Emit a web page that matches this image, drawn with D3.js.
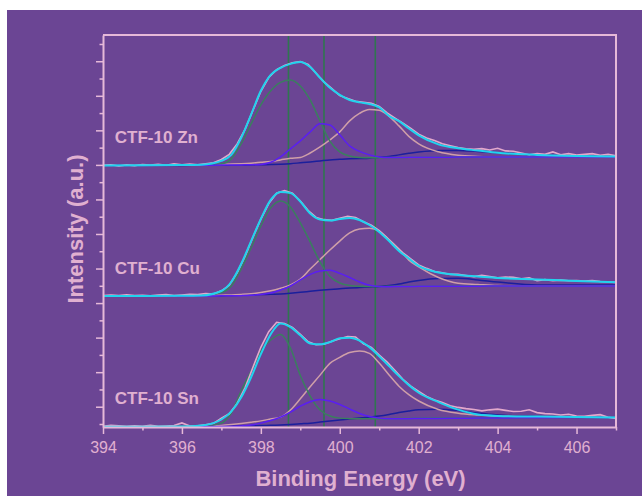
<!DOCTYPE html>
<html lang="en">
<head>
<meta charset="UTF-8">
<title>N 1s XPS - CTF-10</title>
<script src="https://cdn.jsdelivr.net/npm/d3@7"></script>
<style>
    body { margin: 0; background: #fff; }
    svg { display: block; font-family: "Liberation Sans", Arial, sans-serif; }
    .fit { fill: none; }
</style>
</head>
<body>
<svg width="642" height="496"></svg>
<script>

// binding energy grid of the fitted curves (eV)
var energy = [394, 395, 396, 396.5, 397, 397.25, 397.5, 397.75, 398, 398.25, 398.5, 398.75,
    399, 399.25, 399.5, 399.75, 400, 400.25, 400.5, 400.75, 401, 401.25, 401.5, 401.75,
    402, 402.5, 403, 403.5, 404, 405, 406, 407];

// raw spectra are sampled every 0.2 eV from 394 to 407
var rawEnergy = d3.range(0, 66).map(function(i) { return +(394 + i * 0.2).toFixed(1); });

var samples = ["CTF-10 Zn", "CTF-10 Cu", "CTF-10 Sn"];
var offsets = [14.96, 7.41, -0.16];   // vertical stacking (a.u.)
var peakLines = [398.7, 399.6, 400.9];

// ---- CTF-10 Zn
var znRaw = [0.02, 0.05, -0.02, 0.04, 0.0, 0.06, 0.03, 0.08, 0.02, 0.1, 0.04, 0.09, 0.05, 0.11, 0.16, 0.35,
    0.65, 1.25, 2.1, 3.2, 4.3, 5.1, 5.55, 5.8, 5.95, 6.02, 5.85, 5.35, 4.85, 4.45, 4.05, 3.88,
    3.72, 3.66, 3.6, 3.42, 3.05, 2.75, 2.45, 2.15, 1.82, 1.6, 1.45, 1.27, 1.15, 1.04, 0.97, 0.95,
    0.98, 0.9, 1.0, 0.85, 0.83, 0.73, 0.63, 0.69, 0.65, 0.79, 0.63, 0.69, 0.61, 0.65, 0.69, 0.6, 0.65, 0.57];
var znEnvelope = [0, 0.02, 0.03, 0.05, 0.27, 0.62, 1.6, 2.94, 4.33, 5.25, 5.66, 5.89, 6.0, 5.71, 5.08, 4.5,
    4.09, 3.8, 3.66, 3.57, 3.37, 2.87, 2.57, 2.15, 1.75, 1.23, 1.0, 0.87, 0.74, 0.62, 0.56, 0.53];
var znPeakA = [0.01, 0.01, 0.02, 0.02, 0.1, 0.39, 1.25, 2.4, 3.51, 4.33, 4.82, 4.96, 4.61, 3.8, 2.58, 1.42,
    0.79, 0.55, 0.47, 0.46, 0.46, 0.47, 0.47, 0.48, 0.48, 0.49, 0.49, 0.5, 0.5, 0.5, 0.5, 0.5];
var znPeakB = [0.01, 0.01, 0.02, 0.02, 0.03, 0.03, 0.04, 0.05, 0.07, 0.19, 0.51, 0.97, 1.43, 1.95, 2.42, 2.35,
    1.78, 1.14, 0.82, 0.62, 0.5, 0.47, 0.47, 0.48, 0.48, 0.48, 0.49, 0.49, 0.5, 0.5, 0.5, 0.5];
var znPeakC = [0.01, 0.01, 0.02, 0.04, 0.07, 0.09, 0.11, 0.14, 0.19, 0.24, 0.33, 0.42, 0.47, 0.73, 1.08, 1.49,
    1.95, 2.59, 3.02, 3.24, 3.2, 2.85, 2.3, 1.69, 1.26, 0.8, 0.6, 0.53, 0.5, 0.5, 0.5, 0.5];
var znPeakD = [0, 0.01, 0.01, 0.02, 0.02, 0.03, 0.03, 0.04, 0.05, 0.06, 0.08, 0.11, 0.16, 0.21, 0.27, 0.33,
    0.36, 0.39, 0.41, 0.43, 0.48, 0.53, 0.62, 0.71, 0.79, 0.88, 0.88, 0.82, 0.74, 0.62, 0.56, 0.52];

// ---- CTF-10 Cu
var cuRaw = [0.02, 0.06, 0.03, 0.07, 0.02, 0.04, 0.01, 0.05, 0.09, 0.03, 0.06, 0.1, 0.08, 0.14, 0.12, 0.3,
    0.62, 1.35, 2.3, 3.4, 4.45, 5.35, 5.95, 6.1, 5.95, 5.5, 4.95, 4.55, 4.42, 4.38, 4.5, 4.62,
    4.55, 4.3, 4.1, 3.78, 3.35, 2.9, 2.5, 2.15, 1.8, 1.6, 1.42, 1.35, 1.25, 1.25, 1.18, 1.12,
    1.2, 1.12, 1.05, 1.1, 1.08, 1.0, 1.05, 0.88, 0.95, 0.88, 0.92, 0.88, 0.9, 0.86, 0.9, 0.84, 0.82, 0.79];
var cuEnvelope = [0, 0, 0.01, 0.03, 0.29, 0.81, 1.85, 3.16, 4.46, 5.56, 6.02, 5.96, 5.47, 4.78, 4.43, 4.37,
    4.46, 4.52, 4.4, 4.11, 3.71, 3.18, 2.61, 2.17, 1.74, 1.36, 1.22, 1.13, 1.04, 0.96, 0.87, 0.79];
var cuPeakA = [0, 0, 0.01, 0.02, 0.2, 0.58, 1.56, 2.78, 4.05, 5.1, 5.5, 5.15, 4.23, 3.13, 1.97, 1.13,
    0.75, 0.61, 0.56, 0.55, 0.55, 0.56, 0.56, 0.57, 0.57, 0.57, 0.58, 0.58, 0.58, 0.58, 0.58, 0.58];
var cuPeakB = [0, 0, 0, 0, 0.01, 0.01, 0.02, 0.04, 0.09, 0.17, 0.35, 0.58, 0.93, 1.25, 1.45, 1.49,
    1.31, 1.07, 0.81, 0.62, 0.55, 0.54, 0.55, 0.55, 0.56, 0.56, 0.57, 0.57, 0.58, 0.58, 0.58, 0.58];
var cuPeakC = [0, 0, 0.01, 0.02, 0.05, 0.06, 0.09, 0.13, 0.2, 0.3, 0.45, 0.64, 0.98, 1.56, 2.11, 2.66,
    3.18, 3.65, 3.88, 3.92, 3.76, 3.27, 2.72, 2.08, 1.68, 1.07, 0.74, 0.67, 0.61, 0.58, 0.58, 0.58];
var cuPeakD = [0, 0, 0.01, 0.01, 0.02, 0.03, 0.04, 0.06, 0.08, 0.1, 0.12, 0.16, 0.21, 0.27, 0.33, 0.38,
    0.42, 0.46, 0.49, 0.52, 0.55, 0.61, 0.69, 0.81, 0.9, 1.01, 1.03, 0.93, 0.81, 0.64, 0.64, 0.64];

// ---- CTF-10 Sn
var snRaw = [0.03, 0.08, 0.06, 0.02, 0.05, 0.03, 0.09, 0.02, 0.04, 0.07, 0.22, 0.04, 0.06, 0.12, 0.2, 0.5,
    0.75, 1.35, 2.25, 3.45, 4.6, 5.5, 6.05, 5.98, 5.75, 5.35, 4.92, 4.75, 4.78, 4.95, 5.1, 5.22,
    5.2, 4.8, 4.6, 4.15, 3.75, 3.25, 2.75, 2.35, 2.05, 1.75, 1.55, 1.4, 1.22, 1.12, 1.05, 1.0,
    0.92, 0.98, 1.02, 0.95, 0.88, 0.9, 0.98, 0.82, 0.76, 0.74, 0.68, 0.72, 0.62, 0.6, 0.66, 0.7, 0.55, 0.48];
var snEnvelope = [0, 0, 0.01, 0.07, 0.42, 0.88, 1.69, 2.85, 4.2, 5.36, 5.98, 5.77, 5.3, 4.82, 4.77, 4.9,
    5.13, 5.16, 4.99, 4.61, 4.08, 3.51, 2.93, 2.41, 1.97, 1.43, 0.99, 0.71, 0.63, 0.59, 0.56, 0.54];
var snPeakA = [0, 0, 0.01, 0.02, 0.21, 0.79, 2.07, 3.21, 4.38, 5.02, 5.34, 4.56, 2.97, 1.78, 0.97, 0.62,
    0.5, 0.47, 0.46, 0.46, 0.47, 0.47, 0.48, 0.48, 0.49, 0.5, 0.5, 0.51, 0.52, 0.53, 0.54, 0.54];
var snPeakB = [0, 0, 0, 0.01, 0.01, 0.02, 0.05, 0.1, 0.21, 0.36, 0.56, 0.85, 1.19, 1.45, 1.58, 1.49,
    1.29, 1.03, 0.77, 0.59, 0.5, 0.47, 0.47, 0.47, 0.48, 0.48, 0.49, 0.5, 0.51, 0.52, 0.53, 0.54];
var snPeakC = [0, 0.01, 0.02, 0.04, 0.08, 0.13, 0.19, 0.26, 0.34, 0.45, 0.56, 0.97, 1.62, 2.32, 2.99, 3.67,
    4.02, 4.3, 4.39, 4.25, 3.69, 3.0, 2.35, 1.86, 1.49, 1.0, 0.78, 0.68, 0.62, 0.58, 0.56, 0.54];
var snPeakD = [0, 0.01, 0.01, 0.02, 0.02, 0.03, 0.04, 0.06, 0.07, 0.09, 0.1, 0.13, 0.17, 0.21, 0.27, 0.33,
    0.39, 0.45, 0.5, 0.56, 0.62, 0.71, 0.82, 0.91, 0.98, 1.02, 0.94, 0.79, 0.68, 0.6, 0.57, 0.54];

var spectra = [
    { raw: znRaw, envelope: znEnvelope, peaks: [znPeakD, znPeakC, znPeakA, znPeakB] },
    { raw: cuRaw, envelope: cuEnvelope, peaks: [cuPeakD, cuPeakC, cuPeakA, cuPeakB] },
    { raw: snRaw, envelope: snEnvelope, peaks: [snPeakD, snPeakC, snPeakA, snPeakB] }
];

// D, C, A, B
var peakColors = ["#1b1f9c", "#cf9fa8", "#3a7f5e", "#5a1ef2"];

var axisColor = "#e6b9d8",
    textColor = "#e0b0d0";

var svg = d3.select("svg");

svg.append("rect").attr("x", 7).attr("y", 10).attr("width", 635).attr("height", 486)
    .attr("fill", "#6b4594");

var plotL = 103, plotR = 616, plotT = 35, plotB = 427;

var x = d3.scaleLinear().domain([394, 407]).range([plotL, plotR]);
var y = d3.scaleLinear().domain([-0.174, 22.52]).range([plotB, plotT]);

// peak position markers
svg.append("g").selectAll("line")
    .data(peakLines)
    .enter().append("line")
    .attr("x1", function(d) { return x(d); })
    .attr("x2", function(d) { return x(d); })
    .attr("y1", plotT)
    .attr("y2", plotB)
    .attr("stroke", "#2f7650")
    .attr("stroke-width", 1.6);

spectra.forEach(function(s, k) {
    var off = offsets[k];
    var g = svg.append("g");

    var fitLine = d3.line()
        .x(function(d, i) { return x(energy[i]); })
        .y(function(d) { return y(off + d); })
        .curve(d3.curveMonotoneX);

    var rawLine = d3.line()
        .x(function(d, i) { return x(rawEnergy[i]); })
        .y(function(d) { return y(off + d); });

    s.peaks.forEach(function(p, j) {
        g.append("path").attr("class", "fit")
            .attr("d", fitLine(p))
            .attr("stroke", peakColors[j])
            .attr("stroke-width", 1.5);
    });

    g.append("path").attr("class", "fit")
        .attr("d", rawLine(s.raw))
        .attr("stroke", "#e2a9cc")
        .attr("stroke-width", 1.6);

    g.append("path").attr("class", "fit")
        .attr("d", fitLine(s.envelope))
        .attr("stroke", "#21d3ee")
        .attr("stroke-width", 2);

    g.append("text")
        .attr("x", x(394.3))
        .attr("y", y(off + 1.3))
        .attr("fill", textColor)
        .attr("font-size", 17)
        .attr("font-weight", "bold")
        .text(samples[k]);
});

// axes
var xAxis = d3.axisBottom(x)
    .tickValues(d3.range(394, 408))
    .tickFormat(function(d) { return d % 2 === 0 ? d : ""; })
    .tickSizeOuter(0);

var gx = svg.append("g").attr("transform", "translate(0," + plotB + ")").call(xAxis);
gx.select(".domain").attr("stroke", axisColor).attr("stroke-width", 2);
gx.selectAll(".tick line")
    .attr("stroke", axisColor).attr("stroke-width", 1.5)
    .attr("y2", function(d) { return d % 2 === 0 ? 7 : 3.5; });
gx.selectAll(".tick text")
    .attr("fill", textColor).attr("font-size", 16).attr("y", 14.5)
    .style("font-family", "'Liberation Sans', Arial, sans-serif");

var yAxis = d3.axisLeft(y)
    .tickValues(d3.range(0, 23))
    .tickFormat("")
    .tickSizeOuter(0);

var gy = svg.append("g").attr("transform", "translate(" + plotL + ",0)").call(yAxis);
gy.select(".domain").attr("stroke", axisColor).attr("stroke-width", 2);
gy.selectAll(".tick line")
    .attr("stroke", axisColor).attr("stroke-width", 1.5)
    .attr("x2", function(d) { return d % 2 === 1 ? -7 : -3.5; });

// frame top and right
svg.append("path")
    .attr("d", "M" + plotL + "," + plotT + "H" + plotR + "V" + plotB)
    .attr("fill", "none")
    .attr("stroke", axisColor)
    .attr("stroke-width", 2);

svg.append("text")
    .attr("x", (plotL + plotR) / 2 + 1)
    .attr("y", 486)
    .attr("text-anchor", "middle")
    .attr("fill", textColor)
    .attr("font-size", 22)
    .attr("font-weight", "bold")
    .text("Binding Energy (eV)");

svg.append("text")
    .attr("transform", "translate(83," + ((plotT + plotB) / 2 - 2) + ") rotate(-90)")
    .attr("text-anchor", "middle")
    .attr("fill", textColor)
    .attr("font-size", 22)
    .attr("font-weight", "bold")
    .text("Intensity (a.u.)");

</script>
</body>
</html>
